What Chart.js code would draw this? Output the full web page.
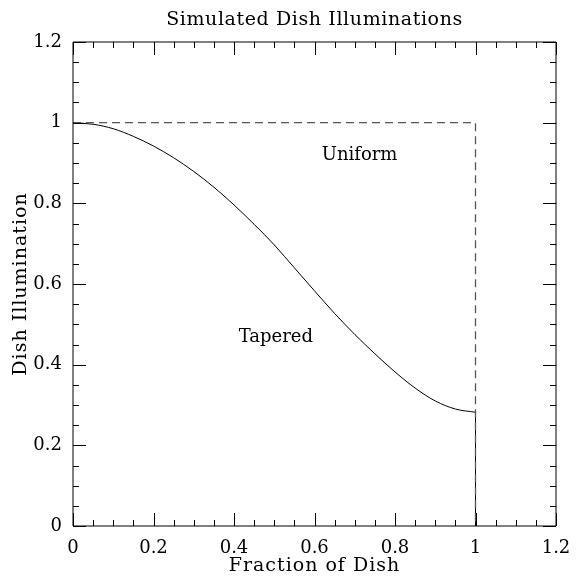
<!DOCTYPE html>
<html>
<head>
<meta charset="utf-8">
<script src="https://cdn.jsdelivr.net/npm/chart.js@4/dist/chart.umd.min.js"></script>
<style>
  html, body { margin: 0; padding: 0; background: #fff; }
</style>
</head>
<body>
<canvas id="grafico" width="576" height="579"></canvas>
<script>
// fraction of dish (x) and the tapered illumination
const fracao = [0, 0.05, 0.1, 0.15, 0.2, 0.25, 0.3, 0.35, 0.4, 0.45, 0.5,
                0.55, 0.6, 0.65, 0.7, 0.75, 0.8, 0.85, 0.9, 0.95, 1.0];
const afunilada = [1.0, 0.996, 0.985, 0.966, 0.942, 0.913, 0.879, 0.840, 0.796, 0.748, 0.697,
                   0.640, 0.583, 0.527, 0.475, 0.427, 0.382, 0.342, 0.310, 0.290, 0.282];
// vertical drop of the tapered curve at the dish edge
const corteX = [1.0, 1.0];
const corteY = [0.282, 0];
// uniform illumination (dashed box)
const uniformeX = [0, 1, 1];
const uniformeY = [1, 1, 0];

const ticksMaiores = [0, 0.2, 0.4, 0.6, 0.8, 1, 1.2];
const passoMenor = 0.05;

const titulo = 'Simulated Dish Illuminations';
const tituloX = 'Fraction of Dish';
const tituloY = 'Dish Illumination';
const rotulos = [
  { texto: 'Uniform', x: 0.712, y: 0.920 },
  { texto: 'Tapered', x: 0.504, y: 0.467 }
];

const fonte = 'DejaVu Serif';

function pontos(xs, ys) {
  return xs.map((v, i) => ({ x: v, y: ys[i] }));
}

const marcasInternas = {
  id: 'marcasInternas',
  afterDatasetsDraw(chart) {
    const { ctx, chartArea: a, scales: { x, y } } = chart;
    ctx.save();
    ctx.strokeStyle = '#000';
    ctx.lineWidth = 1;
    ctx.beginPath();
    ctx.rect(a.left, a.top, a.right - a.left, a.bottom - a.top);
    ctx.stroke();

    const todos = [];
    for (let i = 0; i < ticksMaiores.length; i++) {
      todos.push({ v: ticksMaiores[i], len: 13 });
      if (i < ticksMaiores.length - 1) {
        for (let k = 1; k < 4; k++) todos.push({ v: ticksMaiores[i] + k * passoMenor, len: 6 });
      }
    }
    ctx.beginPath();
    todos.forEach(t => {
      const px = Math.round(x.getPixelForValue(t.v)) + 0.5;
      ctx.moveTo(px, a.bottom); ctx.lineTo(px, a.bottom - t.len);
      ctx.moveTo(px, a.top); ctx.lineTo(px, a.top + t.len);
      const py = Math.round(y.getPixelForValue(t.v)) + 0.5;
      ctx.moveTo(a.left, py); ctx.lineTo(a.left + t.len, py);
      ctx.moveTo(a.right, py); ctx.lineTo(a.right - t.len, py);
    });
    ctx.stroke();

    ctx.fillStyle = '#000';
    ctx.textAlign = 'center';
    ctx.textBaseline = 'middle';
    ctx.font = '18px "' + fonte + '"';
    rotulos.forEach(r => {
      ctx.fillText(r.texto, x.getPixelForValue(r.x), y.getPixelForValue(r.y));
    });

    // titles, Hershey-like wide spacing
    const meio = (a.left + a.right) / 2;
    ctx.font = '19px "' + fonte + '"';
    ctx.letterSpacing = '0.6px';
    ctx.fillText(titulo, meio, 20);
    ctx.letterSpacing = '1px';
    ctx.fillText(tituloX, meio, 566);
    ctx.translate(21, (a.top + a.bottom) / 2);
    ctx.rotate(-Math.PI / 2);
    ctx.fillText(tituloY, 0, 0);
    ctx.restore();
  }
};

const ctx = document.getElementById('grafico').getContext('2d');
const grafico = new Chart(ctx, {
  type: 'scatter',
  data: {
    datasets: [
      {
        label: 'Uniform',
        data: pontos(uniformeX, uniformeY),
        showLine: true,
        borderColor: '#555',
        borderWidth: 1.3,
        borderDash: [8, 5],
        pointRadius: 0
      },
      {
        label: 'Tapered',
        data: pontos(fracao, afunilada),
        showLine: true,
        borderColor: '#000',
        borderWidth: 1,
        cubicInterpolationMode: 'monotone',
        pointRadius: 0
      },
      {
        label: 'Edge',
        data: pontos(corteX, corteY),
        showLine: true,
        borderColor: '#000',
        borderWidth: 1,
        pointRadius: 0
      }
    ]
  },
  plugins: [marcasInternas],
  options: {
    responsive: false,
    animation: false,
    layout: { padding: { left: 0, right: 20, top: 42, bottom: 0 } },
    plugins: {
      legend: { display: false },
      tooltip: { enabled: false },
      title: { display: false }
    },
    scales: {
      x: {
        type: 'linear',
        min: 0,
        max: 1.2,
        afterFit(s) { s.height = 53; s.paddingRight = 0; s.paddingLeft = 0; },
        afterBuildTicks(s) { s.ticks = ticksMaiores.map(v => ({ value: v })); },
        grid: { display: false, drawTicks: false },
        border: { display: false },
        ticks: {
          color: '#000',
          padding: 12,
          font: { family: fonte, size: 18 },
          maxRotation: 0,
          callback: v => String(v)
        }
      },
      y: {
        type: 'linear',
        min: 0,
        max: 1.2,
        afterFit(s) { s.width = 73; s.paddingTop = 0; s.paddingBottom = 0; },
        afterBuildTicks(s) { s.ticks = ticksMaiores.map(v => ({ value: v })); },
        grid: { display: false, drawTicks: false },
        border: { display: false },
        ticks: {
          color: '#000',
          padding: 11,
          font: { family: fonte, size: 18 },
          callback: v => String(v)
        }
      }
    }
  }
});
</script>
</body>
</html>
